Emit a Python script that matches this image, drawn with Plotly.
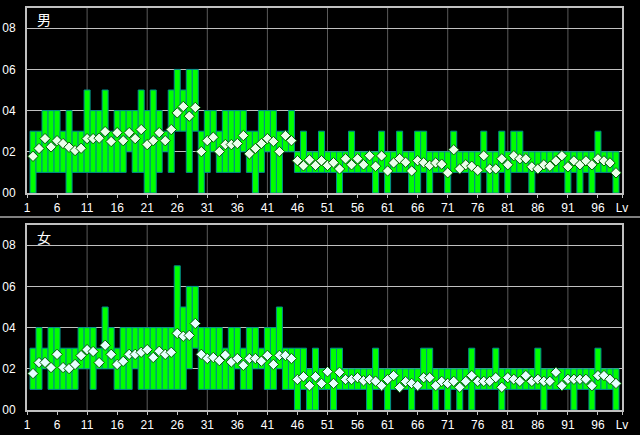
import plotly.graph_objects as go

# ---------------- data ----------------
levels = list(range(2, 100))  # bar positions on the Lv axis (98 bars)

male_min = [0,1,1,1,1,1,0,1,1,1, 1,1,1,1,1,1,2,1,1,0,
            0,1,2,1,3,3,1,3,0,1, 2,1,1,1,1,2,1,0,1,2,
            0,0,2,2,
            1,1,1,1,1,1,1,0,1,1, 1,1,1,0,1,0,1,1,1,0,
            0,1,0,1,1,0,1,1,1,0, 0,1,0,0,1,0,1,1,1,0,
            1,1,1,1,1,0,1,0,1,0, 1,1,1,0]
male_max = [3,3,4,4,4,3,4,3,3,5, 4,4,5,3,4,4,4,4,5,4,
            5,4,3,5,6,5,6,6,3,4, 4,3,4,4,4,4,3,3,4,4,
            4,3,3,4,
            2,3,2,2,3,2,2,2,2,3, 2,2,2,2,3,2,2,3,2,2,
            3,3,2,2,2,2,3,2,2,2, 2,3,2,2,3,2,3,3,2,2,
            2,2,2,2,2,2,2,2,2,2, 3,2,2,2]
male_avg = [1.78,2.16,2.64,2.24,2.54,2.40,2.22,2.06,2.17,2.64,
            2.64,2.66,2.98,2.50,2.93,2.54,2.93,2.64,3.08,2.35,
            2.54,2.93,2.54,3.08,3.89,4.20,3.73,4.15,2.01,2.54,
            2.71,2.01,2.35,2.35,2.40,2.79,1.90,2.16,2.40,2.64,
            2.50,2.01,2.79,2.54,
            1.57,1.32,1.61,1.34,1.57,1.34,1.47,1.17,1.66,1.37,
            1.66,1.37,1.81,1.30,1.80,1.07,1.46,1.67,1.49,1.07,
            1.57,1.47,1.34,1.46,1.40,0.98,2.10,1.17,1.37,1.30,
            1.10,1.81,1.17,1.17,1.66,1.37,1.81,1.66,1.66,1.27,
            1.17,1.37,1.30,1.56,1.81,1.27,1.56,1.37,1.56,1.37,
            1.66,1.56,1.46,0.98]

female_min = [1,1,2,1,1,1,1,1,2,2, 1,2,2,2,1,1,1,2,1,1,
              1,1,1,1,1,1,2,3,1,1, 1,1,1,1,2,1,1,2,2,1,
              1,2,1,1,0,1,0,0,1,1, 0,1,
              1,1,1,1,0,1,1,0,1,1, 1,0,1,1,1,0,1,0,1,0,
              1,0,1,1,1,1,0,1,1,1, 1,1,1,0,1,1,1,1,0,1,
              1,0,1,1,1,0]
female_max = [3,4,3,4,4,3,3,3,4,4, 4,3,5,4,3,4,4,4,4,4,
              4,4,4,4,7,5,6,6,4,4, 4,4,3,4,4,3,4,4,3,4,
              4,5,3,3,3,3,2,3,2,2, 3,3,
              2,2,2,2,2,3,2,2,2,2, 2,2,2,3,3,2,2,2,2,2,
              2,3,2,2,2,3,2,2,2,2, 2,2,3,2,2,2,2,2,2,2,
              2,2,3,2,2,2]
female_avg = [1.77,2.30,2.31,2.06,2.70,2.06,2.01,2.21,2.64,2.93,
              2.84,2.30,3.14,2.70,2.21,2.36,2.70,2.70,2.80,2.93,
              2.55,2.85,2.70,2.80,3.72,3.58,3.62,4.20,2.70,2.50,
              2.55,2.40,2.67,2.33,2.50,2.17,2.50,2.50,2.37,2.65,
              2.21,2.65,2.65,2.50,1.48,1.62,1.18,1.62,1.29,1.86,
              1.29,1.83,1.48,1.48,1.57,1.42,1.48,1.40,1.18,1.48,
              1.67,1.09,1.38,1.29,1.18,1.57,1.57,1.18,1.39,1.29,
              1.39,1.10,1.39,1.67,1.39,1.39,1.39,1.57,1.10,1.57,
              1.49,1.39,1.67,1.39,1.49,1.39,1.39,1.83,1.18,1.49,
              1.49,1.49,1.49,1.18,1.67,1.67,1.49,1.29]

x_tickvals = [1, 6, 11, 16, 21, 26, 31, 36, 41, 46, 51, 56, 61, 66, 71, 76, 81, 86, 91, 96, 100]
x_ticktext = ["1", "6", "11", "16", "21", "26", "31", "36", "41", "46", "51", "56", "61", "66",
              "71", "76", "81", "86", "91", "96", "Lv"]
grid_levels = [11, 21, 31, 41, 51, 61, 71, 81, 91]
y_tickvals = [0, 2, 4, 6, 8]
y_ticktext = ["00", "02", "04", "06", "08"]
panel_titles = ["男", "女"]

# ---------------- figure ----------------
W, H = 640, 435
X0, X1 = 27, 622
panels = [
    dict(mins=male_min, maxs=male_max, avgs=male_avg, xa="x", ya="y",
         fill="#eaffea", top=7.6, bottom=193, title=panel_titles[0], ty=19),
    dict(mins=female_min, maxs=female_max, avgs=female_avg, xa="x2", ya="y2",
         fill="#e6ffff", top=224.6, bottom=410, title=panel_titles[1], ty=237),
]

fig = go.Figure()
shapes = []
annotations = []
layout_axes = {}
font = dict(family="Liberation Sans, Arial, sans-serif", size=12, color="white")

for i, p in enumerate(panels):
    fig.add_trace(go.Bar(
        x=levels,
        base=p["mins"],
        y=[mx - mn for mn, mx in zip(p["mins"], p["maxs"])],
        width=1,
        marker=dict(color="#00ff00", line=dict(color="#008c8c", width=1)),
        xaxis=p["xa"], yaxis=p["ya"], hoverinfo="skip",
    ))
    fig.add_trace(go.Scatter(
        x=levels, y=p["avgs"], mode="markers",
        marker=dict(symbol="diamond", size=8, color=p["fill"],
                    line=dict(color="#006000", width=1)),
        xaxis=p["xa"], yaxis=p["ya"], hoverinfo="skip",
    ))
    xname = "xaxis" if i == 0 else "xaxis2"
    yname = "yaxis" if i == 0 else "yaxis2"
    layout_axes[xname] = dict(
        domain=[X0 / W, X1 / W], anchor=p["ya"], range=[1, 100], automargin=False,
        tickmode="array", tickvals=x_tickvals, ticktext=x_ticktext,
        ticks="outside", ticklen=3, tickcolor="#c0c0c0", tickwidth=1,
        showgrid=False, zeroline=False,
        showline=True, mirror=True, linecolor="#c0c0c0", linewidth=2,
        tickfont=font, fixedrange=True,
    )
    layout_axes[yname] = dict(
        domain=[1 - p["bottom"] / H, 1 - p["top"] / H], anchor=p["xa"], range=[0, 9],
        automargin=False,
        tickmode="array", tickvals=y_tickvals, ticktext=y_ticktext,
        ticks="", ticklabelstandoff=7,
        showgrid=True, gridcolor="#c0c0c0", gridwidth=1, zeroline=False,
        showline=True, mirror=True, linecolor="#c0c0c0", linewidth=2,
        tickfont=font, fixedrange=True,
    )
    for g in grid_levels:
        shapes.append(dict(type="line", xref=p["xa"], yref=p["ya"] + " domain",
                           x0=g, x1=g, y0=0, y1=1, layer="below",
                           line=dict(color="#5a5a5a", width=1)))
    annotations.append(dict(text=p["title"], xref="paper", yref="paper",
                            x=35 / W, y=1 - p["ty"] / H, xanchor="left", yanchor="middle",
                            showarrow=False,
                            font=dict(family="Noto Sans CJK JP", size=14, color="white")))

# separator line between the two panels
shapes.append(dict(type="line", xref="paper", yref="paper", x0=0, x1=1,
                   y0=1 - 217 / H, y1=1 - 217 / H, line=dict(color="white", width=1)))

fig.update_layout(
    width=W, height=H, margin=dict(l=0, r=0, t=0, b=0, autoexpand=False),
    paper_bgcolor="black", plot_bgcolor="black",
    showlegend=False, bargap=0, barmode="overlay",
    shapes=shapes, annotations=annotations,
    **layout_axes,
)

fig.write_html(
    "out.html",
    config={"displayModeBar": False, "staticPlot": True},
    post_script="document.body.style.margin='0';document.body.style.background='black';",
)
